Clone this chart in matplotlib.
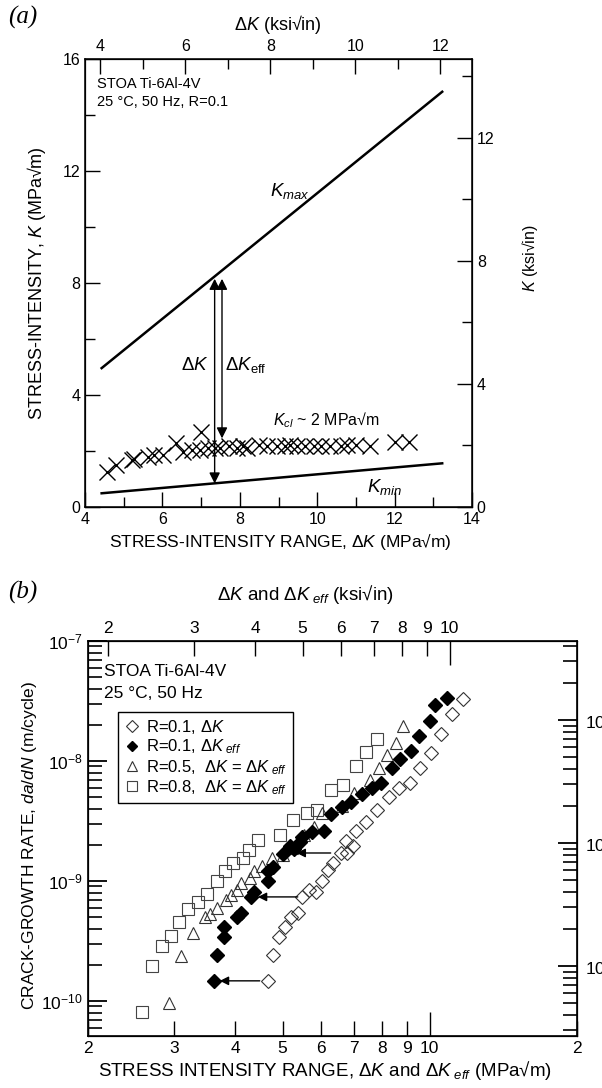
import matplotlib
matplotlib.use("Agg")
import matplotlib.pyplot as plt
from matplotlib.ticker import FixedLocator, FixedFormatter, NullFormatter, LogLocator
from matplotlib.lines import Line2D

plt.rcParams['font.family'] = ['Liberation Sans', 'DejaVu Sans']
plt.rcParams['mathtext.fontset'] = 'custom'
plt.rcParams['mathtext.rm'] = 'Liberation Sans'
plt.rcParams['mathtext.it'] = 'Liberation Sans:italic'
plt.rcParams['mathtext.bf'] = 'Liberation Sans:bold'
plt.rcParams['xtick.direction'] = 'in'
plt.rcParams['ytick.direction'] = 'in'

KSI = 1.0988      # MPa*sqrt(m) per ksi*sqrt(in)

# ---- panel (a): K vs delta K, R = 0.1 ----
line_dk = [4.43, 13.23]
kmax = [4.96, 14.83]
kmin = [0.49, 1.56]

kcl_dk = [4.56, 4.81, 5.21, 5.26, 5.64, 5.78, 6.02, 6.34, 6.54, 6.76, 6.97, 7.01,
          7.19, 7.37, 7.48, 7.71, 7.93, 8.09, 8.18, 8.49, 8.70, 8.97, 9.17, 9.30,
          9.48, 9.69, 9.91, 10.11, 10.34, 10.61, 10.76, 10.99, 11.37, 12.02, 12.36]
kcl_k = [1.26, 1.50, 1.68, 1.73, 1.80, 1.86, 1.86, 2.30, 1.98, 2.04, 2.04, 2.69,
         2.10, 2.10, 2.10, 2.17, 2.10, 2.17, 2.10, 2.23, 2.17, 2.17, 2.17, 2.23,
         2.17, 2.17, 2.17, 2.17, 2.17, 2.17, 2.23, 2.23, 2.17, 2.33, 2.33]

arrow_dk = [7.35, 7.54]
arrow_lo = [0.84, 2.45]
arrow_hi = [8.15, 8.15]

# ---- panel (b): da/dN vs delta K ----
sq_dk = [2.58, 2.70, 2.83, 2.95, 3.07, 3.20, 3.35, 3.50, 3.67, 3.81, 3.95, 4.14,
         4.26, 4.45, 4.93, 5.24, 5.60, 5.89, 6.27, 6.63, 7.05, 7.39, 7.81]
sq_rate = [8.1e-11, 1.96e-10, 2.87e-10, 3.48e-10, 4.55e-10, 5.85e-10, 6.68e-10,
           7.80e-10, 1.0e-9, 1.21e-9, 1.41e-9, 1.56e-9, 1.8e-9, 2.2e-9, 2.42e-9,
           3.22e-9, 3.69e-9, 3.91e-9, 5.73e-9, 6.31e-9, 9.08e-9, 1.19e-8, 1.52e-8]

tri_dk = [2.93, 3.10, 3.28, 3.47, 3.56, 3.67, 3.83, 3.92, 4.03, 4.12, 4.28, 4.38,
          4.53, 4.75, 5.00, 5.22, 5.52, 5.81, 6.03, 6.60, 7.01, 7.56, 7.89, 8.19,
          8.51, 8.83]
tri_rate = [9.6e-11, 2.37e-10, 3.69e-10, 5.01e-10, 5.31e-10, 5.96e-10, 6.95e-10,
            7.64e-10, 8.41e-10, 9.62e-10, 1.06e-9, 1.21e-9, 1.33e-9, 1.56e-9,
            1.65e-9, 1.88e-9, 2.42e-9, 2.82e-9, 3.69e-9, 4.2e-9, 5.41e-9, 6.95e-9,
            8.74e-9, 1.12e-8, 1.41e-8, 1.96e-8]

eff_dk = [3.62, 3.67, 3.79, 3.79, 4.03, 4.12, 4.30, 4.38, 4.66, 4.66, 4.79, 5.00,
          5.17, 5.27, 5.42, 5.49, 5.73, 6.09, 6.29, 6.60, 6.91, 7.28, 7.60, 7.96,
          8.35, 8.71, 9.17, 9.52, 10.02, 10.26, 10.86]
eff_rate = [1.47e-10, 2.42e-10, 3.41e-10, 4.14e-10, 5.01e-10, 5.41e-10, 7.36e-10,
            8.10e-10, 1.0e-9, 1.21e-9, 1.31e-9, 1.68e-9, 1.96e-9, 1.85e-9, 2.11e-9,
            2.33e-9, 2.56e-9, 2.61e-9, 3.62e-9, 4.14e-9, 4.55e-9, 5.31e-9, 5.96e-9,
            6.56e-9, 8.74e-9, 1.04e-8, 1.21e-8, 1.62e-8, 2.15e-8, 2.93e-8, 3.35e-8]

dk_dk = [4.66, 4.77, 4.91, 5.05, 5.19, 5.37, 5.49, 5.65, 5.84, 6.01, 6.18, 6.35,
         6.57, 6.76, 6.73, 6.95, 7.08, 7.42, 7.81, 8.27, 8.67, 9.13, 9.56, 10.07,
         10.56, 11.12, 11.71]
dk_rate = [1.47e-10, 2.42e-10, 3.41e-10, 4.14e-10, 5.01e-10, 5.41e-10, 7.36e-10,
           8.41e-10, 8.10e-10, 1.0e-9, 1.24e-9, 1.41e-9, 1.71e-9, 1.71e-9, 2.15e-9,
           1.96e-9, 2.61e-9, 3.1e-9, 3.91e-9, 5.01e-9, 5.96e-9, 6.56e-9, 8.74e-9,
           1.17e-8, 1.68e-8, 2.47e-8, 3.29e-8]

shift_rate = [1.71e-9, 7.36e-10, 1.47e-10]
shift_from = [6.27, 5.37, 4.49]
shift_to = [5.34, 4.45, 3.72]

# right-hand scale of (b) in in/cycle, as drawn in the original
rate_in_lim = [2.70e-9, 4.38e-6]


W, H = 602, 1088
fig = plt.figure(figsize=(W / 100, H / 100), dpi=100)


def box(left, top, right, bottom):
    return [left / W, 1 - bottom / H, (right - left) / W, (bottom - top) / H]


def fxy(x, y):
    return x / W, 1 - y / H


# ================= panel (a) =================
ax = fig.add_axes(box(85, 59, 472, 507))
ax.plot(line_dk, kmax, color='k', lw=1.8)
ax.plot(line_dk, kmin, color='k', lw=1.8)
ax.plot(kcl_dk, kcl_k, 'x', color='k', ms=12, mew=1.0, ls='none')
for x, lo, hi in zip(arrow_dk, arrow_lo, arrow_hi):
    ax.annotate('', xy=(x, hi), xytext=(x, lo),
                arrowprops=dict(arrowstyle='<|-|>', color='k', lw=1,
                                mutation_scale=16, shrinkA=0, shrinkB=0))
ax.set_xlim(4, 14)
ax.set_ylim(0, 16)
ax.set_xticks([4, 6, 8, 10, 12, 14])
ax.set_xticks([5, 7, 9, 11, 13], minor=True)
ax.set_yticks([0, 4, 8, 12, 16])
ax.set_yticks([2, 6, 10, 14], minor=True)
ax.tick_params(which='major', length=11, width=1, labelsize=11.5)
ax.tick_params(which='minor', length=7, width=1)
for s in ax.spines.values():
    s.set_linewidth(1.1)

top_a = ax.twiny()
top_a.set_xlim(4 / KSI, 14 / KSI)
top_a.set_xticks([4, 6, 8, 10, 12])
top_a.set_xticks([5, 7, 9, 11], minor=True)
top_a.tick_params(which='major', length=11, width=1, labelsize=11.5)
top_a.tick_params(which='minor', length=7, width=1)

right_a = ax.twinx()
right_a.set_ylim(0, 16 / KSI)
right_a.set_yticks([0, 4, 8, 12])
right_a.set_yticks([2, 6, 10, 14], minor=True)
right_a.tick_params(which='major', length=11, width=1, labelsize=11.5)
right_a.tick_params(which='minor', length=7, width=1)

ax.text(4.31, 15.35, "STOA Ti-6Al-4V\n25 °C, 50 Hz, R=0.1", fontsize=10.5,
        va='top', ha='left', linespacing=1.3)
ax.text(9.3, 11.3, r"$K_{max}$", fontsize=13.5, ha='center', va='center')
ax.text(7.2, 5.07, r"$\Delta K$", fontsize=13.5, ha='right', va='center')
ax.text(7.62, 5.07, r"$\Delta K_{\rm eff}$", fontsize=13.5, ha='left', va='center')
ax.text(8.85, 3.1, r"$K_{cl}$ ~ 2 MPa√m", fontsize=11.5, ha='left', va='center')
ax.text(11.75, 0.72, r"$K_{min}$", fontsize=13.5, ha='center', va='center')

fig.text(*fxy(8, 17), "(a)", family='Liberation Serif', style='italic',
         fontsize=18, va='center', ha='left')
fig.text(*fxy(278, 25), r"$\Delta K$ (ksi√in)", fontsize=13, ha='center', va='center')
fig.text(*fxy(280, 541), r"STRESS-INTENSITY RANGE, $\Delta K$ (MPa√m)",
         fontsize=12.5, ha='center', va='center')
fig.text(*fxy(37, 283), r"STRESS-INTENSITY, $K$ (MPa√m)", fontsize=13,
         rotation=90, ha='center', va='center')
fig.text(*fxy(530, 258), r"$K$ (ksi√in)", fontsize=11.5, rotation=90,
         ha='center', va='center')

# ================= panel (b) =================
bx = fig.add_axes(box(88, 641, 577, 1036))
bx.set_xscale('log')
bx.set_yscale('log')
bx.plot(sq_dk, sq_rate, 's', mfc='none', mec='#444444', ms=8, mew=0.8, ls='none')
bx.plot(tri_dk, tri_rate, '^', mfc='none', mec='#333333', ms=9, mew=0.8, ls='none')
bx.plot(eff_dk, eff_rate, 'D', color='k', ms=7, ls='none')
bx.plot(dk_dk, dk_rate, 'D', mfc='none', mec='#333333', ms=7, mew=0.8, ls='none')
for r, x0, x1 in zip(shift_rate, shift_from, shift_to):
    bx.annotate('', xy=(x1, r), xytext=(x0, r),
                arrowprops=dict(arrowstyle='-|>', color='k', lw=1,
                                mutation_scale=13, shrinkA=0, shrinkB=0))
bx.set_xlim(2, 20)
bx.set_ylim(5.1e-11, 1e-7)

bx.xaxis.set_major_locator(FixedLocator([10]))
bx.xaxis.set_major_formatter(FixedFormatter(["10"]))
bx.xaxis.set_minor_locator(FixedLocator([2, 3, 4, 5, 6, 7, 8, 9, 20]))
bx.xaxis.set_minor_formatter(FixedFormatter(["2", "3", "4", "5", "6", "7", "8", "9", "2"]))
bx.yaxis.set_major_locator(LogLocator(base=10))
bx.yaxis.set_minor_locator(LogLocator(base=10, subs=range(2, 10)))
bx.yaxis.set_minor_formatter(NullFormatter())
bx.tick_params(axis='x', which='major', length=17, width=1, labelsize=12.5)
bx.tick_params(axis='x', which='minor', length=11, width=1, labelsize=12.5)
bx.tick_params(axis='y', which='major', length=14, width=1.3, labelsize=12.5)
bx.tick_params(axis='y', which='minor', length=10, width=1.2)
for s in bx.spines.values():
    s.set_linewidth(1.2)

top_b = bx.twiny()
top_b.set_xscale('log')
top_b.set_xlim(2 / KSI, 20 / KSI)
top_b.xaxis.set_major_locator(FixedLocator([10]))
top_b.xaxis.set_major_formatter(FixedFormatter(["10"]))
top_b.xaxis.set_minor_locator(FixedLocator([2, 3, 4, 5, 6, 7, 8, 9]))
top_b.xaxis.set_minor_formatter(FixedFormatter(["2", "3", "4", "5", "6", "7", "8", "9"]))
top_b.tick_params(which='major', length=17, width=1, labelsize=12.5)
top_b.tick_params(which='minor', length=11, width=1, labelsize=12.5)

right_b = bx.twinx()
right_b.set_yscale('log')
right_b.set_ylim(*rate_in_lim)
right_b.yaxis.set_major_locator(LogLocator(base=10))
right_b.yaxis.set_minor_locator(LogLocator(base=10, subs=range(2, 10)))
right_b.yaxis.set_minor_formatter(NullFormatter())
right_b.tick_params(which='major', length=14, width=1.3, labelsize=12.5, pad=6)
right_b.tick_params(which='minor', length=10, width=1.2)

handles = [
    Line2D([], [], marker='D', ls='none', mfc='none', mec='#333333', ms=6, mew=0.8),
    Line2D([], [], marker='D', ls='none', color='k', ms=5),
    Line2D([], [], marker='^', ls='none', mfc='none', mec='#333333', ms=7, mew=0.8),
    Line2D([], [], marker='s', ls='none', mfc='none', mec='#444444', ms=7, mew=0.8),
]
labels = [r"R=0.1, $\Delta K$",
          r"R=0.1, $\Delta K_{\ eff}$",
          r"R=0.5,  $\Delta K$ = $\Delta K_{\ eff}$",
          r"R=0.8,  $\Delta K$ = $\Delta K_{\ eff}$"]
leg = bx.legend(handles, labels, loc='upper left',
                bbox_to_anchor=((118 - 88) / 489, 1 - (712 - 641) / 395),
                fontsize=12, frameon=True, fancybox=False, framealpha=1,
                edgecolor='k', borderpad=0.35, handletextpad=0.3,
                handlelength=1.0, labelspacing=0.1, borderaxespad=0)
leg.get_frame().set_linewidth(1.0)

fig.text(*fxy(104, 664), "STOA Ti-6Al-4V\n25 °C, 50 Hz", fontsize=12.5,
         ha='left', va='top', linespacing=1.6)

fig.text(*fxy(8, 592), "(b)", family='Liberation Serif', style='italic',
         fontsize=18, va='center', ha='left')
fig.text(*fxy(305, 595), r"$\Delta K$ and $\Delta K_{\ eff}$ (ksi√in)",
         fontsize=13.5, ha='center', va='center')
fig.text(*fxy(325, 1070), r"STRESS INTENSITY RANGE, $\Delta K$ and $\Delta K_{\ eff}$ (MPa√m)",
         fontsize=13.5, ha='center', va='center')
fig.text(*fxy(30, 845), r"CRACK-GROWTH RATE, $da/dN$ (m/cycle)", fontsize=12.5,
         rotation=90, ha='center', va='center')

fig.savefig("out.png", dpi=100)
